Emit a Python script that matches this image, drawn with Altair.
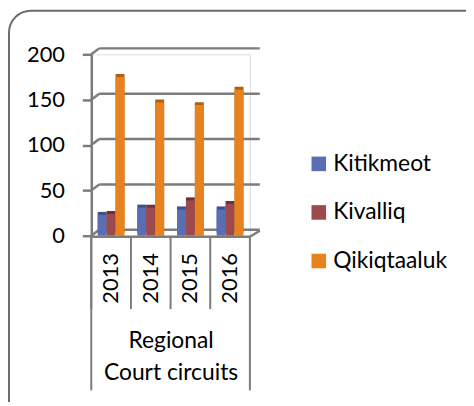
import altair as alt
import pandas as pd

years = ["2013", "2014", "2015", "2016"]
series = ["Kitikmeot", "Kivalliq", "Qikiqtaaluk"]
kitikmeot = [23, 31, 29, 29]
kivalliq = [24, 31, 39, 35]
qikiqtaaluk = [175, 147, 144, 161]
y_ticks = [0, 50, 100, 150, 200]
front_colors = ["#5a6fb3", "#9c4a4d", "#e8821e"]
side_colors = ["#3f4f88", "#6c3133", "#b0600f"]
x_title = ["Regional", "Court circuits"]

rows = []
for s, vals, dark in zip(series, [kitikmeot, kivalliq, qikiqtaaluk], side_colors):
    for y, v in zip(years, vals):
        rows.append({"year": y, "series": s, "value": v, "dark": dark})
bars_df = pd.DataFrame(rows)
grid_df = pd.DataFrame({"v": y_ticks})
zero_df = pd.DataFrame({"v": [0]})
year_df = pd.DataFrame({"year": years})

W, H = 160, 183
GREY = "#7c7c7c"
LW = 2.5
FONT = "Lato"

xscale = alt.Scale(domain=years, paddingInner=0, paddingOuter=0)
yscale = alt.Scale(domain=[0, 200])
xoff_scale = alt.Scale(domain=series, paddingInner=0, paddingOuter=0.72)

front = alt.Chart(bars_df).mark_bar(xOffset=2, x2Offset=2).encode(
    x=alt.X(
        "year:N",
        scale=xscale,
        axis=alt.Axis(
            labelAngle=270, ticks=False, domain=False, labelPadding=17,
            labelFont=FONT, labelFontSize=22, labelColor="black",
            title=x_title, titleFont=FONT, titleFontSize=23, titleFontWeight="normal",
            titleColor="black", titleLineHeight=32, titleY=95, titleBaseline="top",
            zindex=2,
        ),
    ),
    xOffset=alt.XOffset("series:N", scale=xoff_scale),
    y=alt.Y(
        "value:Q",
        scale=yscale,
        axis=alt.Axis(
            values=y_ticks, grid=False, domainColor=GREY, domainWidth=LW,
            tickColor=GREY, tickWidth=LW, tickSize=9, labelFont=FONT, labelFontSize=22,
            labelColor="black", labelPadding=18, title=None, zindex=2,
        ),
    ),
    color=alt.Color(
        "series:N",
        scale=alt.Scale(domain=series, range=front_colors),
        legend=alt.Legend(
            title=None, orient="none", legendX=218, legendY=99, symbolType="square",
            symbolSize=216, symbolStrokeWidth=0, labelFont=FONT, labelFontSize=23,
            labelColor="black", rowPadding=25, labelOffset=3,
        ),
    ),
)

back_grid = alt.Chart(grid_df).mark_rule(color=GREY, strokeWidth=LW, yOffset=-6).encode(
    y=alt.Y("v:Q", scale=yscale), x=alt.value(8), x2=alt.value(W + 10)
)
diag = alt.Chart(grid_df).mark_rule(color=GREY, strokeWidth=LW, y2Offset=-6).encode(
    y=alt.Y("v:Q", scale=yscale), y2="v:Q", x=alt.value(0), x2=alt.value(8)
)

side = alt.Chart(bars_df).mark_bar(xOffset=5, x2Offset=5, yOffset=-3, y2Offset=-3).encode(
    x=alt.X("year:N", scale=xscale),
    xOffset=alt.XOffset("series:N", scale=xoff_scale),
    y=alt.Y("value:Q", scale=yscale),
    color=alt.Color("dark:N", scale=None),
)

floor = alt.Chart(zero_df).mark_rule(color=GREY, strokeWidth=LW, yOffset=1).encode(
    y=alt.Y("v:Q", scale=yscale), x=alt.value(0), x2=alt.value(W)
)
floor_diag = alt.Chart(zero_df).mark_rule(color=GREY, strokeWidth=LW, yOffset=1, y2Offset=-5).encode(
    y=alt.Y("v:Q", scale=yscale), y2="v:Q", x=alt.value(W), x2=alt.value(W + 10)
)

seps = alt.Chart(year_df).mark_rule(color=GREY, strokeWidth=2).encode(
    x=alt.X("year:N", scale=xscale, bandPosition=0),
    y=alt.value(H + 1), y2=alt.value(H + 74),
)
outer_l = alt.Chart(zero_df).mark_rule(color=GREY, strokeWidth=2).encode(
    x=alt.value(0), y=alt.value(H + 1), y2=alt.value(H + 156)
)
outer_r = alt.Chart(zero_df).mark_rule(color=GREY, strokeWidth=2).encode(
    x=alt.value(W), y=alt.value(H + 1), y2=alt.value(H + 156)
)
border = alt.Chart(zero_df).mark_rect(
    filled=False, stroke="#6b6b6b", strokeWidth=2, cornerRadius=22
).encode(x=alt.value(-83), x2=alt.value(W + 260), y=alt.value(-44), y2=alt.value(H + 200))

chart = alt.layer(
    back_grid, diag, side, front, floor, floor_diag, seps, outer_l, outer_r, border
).properties(
    width=W, height=H,
    autosize=alt.AutoSizeParams(type="none"),
    padding={"left": 84, "top": 45, "right": 218, "bottom": 166},
).configure_view(stroke=None).configure(background="white")

chart.save("out.html", embed_options={"renderer": "svg", "actions": False})
